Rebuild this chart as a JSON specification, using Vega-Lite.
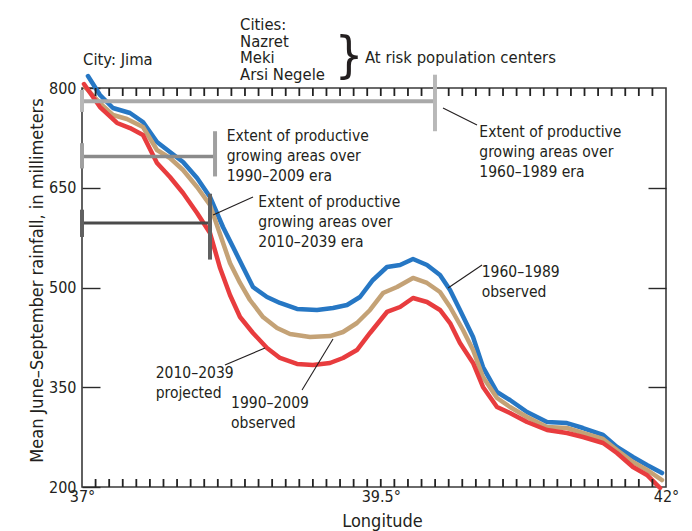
{
  "$schema": "https://vega.github.io/schema/vega-lite/v6.json",
  "width": 584,
  "height": 399,
  "autosize": {"type": "none"},
  "padding": {"left": 82, "top": 88, "right": 26, "bottom": 44},
  "background": "white",
  "config": {
    "view": {"stroke": "#3a3a3a", "strokeWidth": 1.6},
    "font": "Liberation Sans Narrow, DejaVu Sans Condensed, sans-serif",
    "axis": {
      "labelFont": "Liberation Sans Narrow, DejaVu Sans Condensed, sans-serif",
      "titleFont": "Liberation Sans Narrow, DejaVu Sans Condensed, sans-serif",
      "labelColor": "#231f20",
      "titleColor": "#231f20",
      "titleFontWeight": "normal",
      "grid": false,
      "domain": false,
      "tickColor": "#2a2a2a",
      "tickWidth": 1.4
    },
    "text": {"font": "Liberation Sans Narrow, DejaVu Sans Condensed, sans-serif", "color": "#231f20"}
  },
  "datasets": {
    "lines": [
      {"series": "1960–1989", "lon": 37.051, "rain": 818},
      {"series": "1960–1989", "lon": 37.154, "rain": 789.5},
      {"series": "1960–1989", "lon": 37.265, "rain": 769.9},
      {"series": "1960–1989", "lon": 37.411, "rain": 762.4},
      {"series": "1960–1989", "lon": 37.522, "rain": 748.9},
      {"series": "1960–1989", "lon": 37.642, "rain": 718.8},
      {"series": "1960–1989", "lon": 37.753, "rain": 703.8},
      {"series": "1960–1989", "lon": 37.865, "rain": 688.7},
      {"series": "1960–1989", "lon": 37.985, "rain": 664.7},
      {"series": "1960–1989", "lon": 38.096, "rain": 636.1},
      {"series": "1960–1989", "lon": 38.207, "rain": 591.0},
      {"series": "1960–1989", "lon": 38.293, "rain": 560.9},
      {"series": "1960–1989", "lon": 38.378, "rain": 530.8},
      {"series": "1960–1989", "lon": 38.464, "rain": 500.8},
      {"series": "1960–1989", "lon": 38.584, "rain": 485.7},
      {"series": "1960–1989", "lon": 38.695, "rain": 476.7},
      {"series": "1960–1989", "lon": 38.841, "rain": 467.7},
      {"series": "1960–1989", "lon": 39.012, "rain": 466.2},
      {"series": "1960–1989", "lon": 39.149, "rain": 469.2},
      {"series": "1960–1989", "lon": 39.269, "rain": 473.7},
      {"series": "1960–1989", "lon": 39.380, "rain": 485.7},
      {"series": "1960–1989", "lon": 39.491, "rain": 511.3},
      {"series": "1960–1989", "lon": 39.611, "rain": 530.8},
      {"series": "1960–1989", "lon": 39.723, "rain": 533.8},
      {"series": "1960–1989", "lon": 39.834, "rain": 542.8},
      {"series": "1960–1989", "lon": 39.954, "rain": 533.8},
      {"series": "1960–1989", "lon": 40.065, "rain": 518.8},
      {"series": "1960–1989", "lon": 40.151, "rain": 496.2},
      {"series": "1960–1989", "lon": 40.236, "rain": 466.2},
      {"series": "1960–1989", "lon": 40.348, "rain": 425.6},
      {"series": "1960–1989", "lon": 40.433, "rain": 380.4},
      {"series": "1960–1989", "lon": 40.553, "rain": 342.8},
      {"series": "1960–1989", "lon": 40.664, "rain": 330.8},
      {"series": "1960–1989", "lon": 40.810, "rain": 312.8},
      {"series": "1960–1989", "lon": 40.981, "rain": 297.7},
      {"series": "1960–1989", "lon": 41.152, "rain": 296.2},
      {"series": "1960–1989", "lon": 41.289, "rain": 288.7},
      {"series": "1960–1989", "lon": 41.461, "rain": 278.2},
      {"series": "1960–1989", "lon": 41.580, "rain": 260.1},
      {"series": "1960–1989", "lon": 41.717, "rain": 245.1},
      {"series": "1960–1989", "lon": 41.837, "rain": 233.1},
      {"series": "1960–1989", "lon": 41.966, "rain": 221.0},
      {"series": "1990–2009", "lon": 37.026, "rain": 801.5},
      {"series": "1990–2009", "lon": 37.154, "rain": 777.4},
      {"series": "1990–2009", "lon": 37.265, "rain": 759.4},
      {"series": "1990–2009", "lon": 37.385, "rain": 753.4},
      {"series": "1990–2009", "lon": 37.522, "rain": 741.3},
      {"series": "1990–2009", "lon": 37.642, "rain": 706.8},
      {"series": "1990–2009", "lon": 37.753, "rain": 694.7},
      {"series": "1990–2009", "lon": 37.865, "rain": 676.7},
      {"series": "1990–2009", "lon": 37.985, "rain": 651.1},
      {"series": "1990–2009", "lon": 38.096, "rain": 624.1},
      {"series": "1990–2009", "lon": 38.182, "rain": 580.0},
      {"series": "1990–2009", "lon": 38.267, "rain": 536.8},
      {"series": "1990–2009", "lon": 38.353, "rain": 506.8},
      {"series": "1990–2009", "lon": 38.438, "rain": 481.2},
      {"series": "1990–2009", "lon": 38.550, "rain": 455.6},
      {"series": "1990–2009", "lon": 38.670, "rain": 439.1},
      {"series": "1990–2009", "lon": 38.781, "rain": 430.1},
      {"series": "1990–2009", "lon": 38.952, "rain": 425.5},
      {"series": "1990–2009", "lon": 39.123, "rain": 427.0},
      {"series": "1990–2009", "lon": 39.235, "rain": 433.1},
      {"series": "1990–2009", "lon": 39.354, "rain": 446.6},
      {"series": "1990–2009", "lon": 39.466, "rain": 466.2},
      {"series": "1990–2009", "lon": 39.577, "rain": 491.7},
      {"series": "1990–2009", "lon": 39.697, "rain": 500.8},
      {"series": "1990–2009", "lon": 39.834, "rain": 514.3},
      {"series": "1990–2009", "lon": 39.954, "rain": 506.8},
      {"series": "1990–2009", "lon": 40.065, "rain": 493.2},
      {"series": "1990–2009", "lon": 40.151, "rain": 470.7},
      {"series": "1990–2009", "lon": 40.262, "rain": 436.1},
      {"series": "1990–2009", "lon": 40.348, "rain": 406.0},
      {"series": "1990–2009", "lon": 40.433, "rain": 365.4},
      {"series": "1990–2009", "lon": 40.553, "rain": 333.8},
      {"series": "1990–2009", "lon": 40.664, "rain": 320.3},
      {"series": "1990–2009", "lon": 40.810, "rain": 305.3},
      {"series": "1990–2009", "lon": 40.981, "rain": 290.2},
      {"series": "1990–2009", "lon": 41.152, "rain": 288.7},
      {"series": "1990–2009", "lon": 41.289, "rain": 281.2},
      {"series": "1990–2009", "lon": 41.461, "rain": 272.2},
      {"series": "1990–2009", "lon": 41.580, "rain": 255.6},
      {"series": "1990–2009", "lon": 41.717, "rain": 237.6},
      {"series": "1990–2009", "lon": 41.837, "rain": 225.6},
      {"series": "1990–2009", "lon": 41.966, "rain": 210.5},
      {"series": "2010–2039", "lon": 37.017, "rain": 806},
      {"series": "2010–2039", "lon": 37.154, "rain": 771.4},
      {"series": "2010–2039", "lon": 37.300, "rain": 747.4},
      {"series": "2010–2039", "lon": 37.411, "rain": 739.8},
      {"series": "2010–2039", "lon": 37.522, "rain": 729.3},
      {"series": "2010–2039", "lon": 37.642, "rain": 687.2},
      {"series": "2010–2039", "lon": 37.753, "rain": 666.2},
      {"series": "2010–2039", "lon": 37.865, "rain": 642.1},
      {"series": "2010–2039", "lon": 37.985, "rain": 612.0},
      {"series": "2010–2039", "lon": 38.096, "rain": 581.9},
      {"series": "2010–2039", "lon": 38.182, "rain": 529.3},
      {"series": "2010–2039", "lon": 38.267, "rain": 488.7},
      {"series": "2010–2039", "lon": 38.353, "rain": 455.6},
      {"series": "2010–2039", "lon": 38.464, "rain": 431.6},
      {"series": "2010–2039", "lon": 38.584, "rain": 409.0},
      {"series": "2010–2039", "lon": 38.695, "rain": 394.0},
      {"series": "2010–2039", "lon": 38.841, "rain": 385.0},
      {"series": "2010–2039", "lon": 38.978, "rain": 383.4},
      {"series": "2010–2039", "lon": 39.123, "rain": 386.5},
      {"series": "2010–2039", "lon": 39.235, "rain": 394.0},
      {"series": "2010–2039", "lon": 39.354, "rain": 406.0},
      {"series": "2010–2039", "lon": 39.466, "rain": 431.6},
      {"series": "2010–2039", "lon": 39.611, "rain": 463.2},
      {"series": "2010–2039", "lon": 39.723, "rain": 470.7},
      {"series": "2010–2039", "lon": 39.834, "rain": 484.2},
      {"series": "2010–2039", "lon": 39.954, "rain": 478.2},
      {"series": "2010–2039", "lon": 40.065, "rain": 466.2},
      {"series": "2010–2039", "lon": 40.151, "rain": 446.6},
      {"series": "2010–2039", "lon": 40.236, "rain": 416.5},
      {"series": "2010–2039", "lon": 40.348, "rain": 386.5},
      {"series": "2010–2039", "lon": 40.433, "rain": 350.4},
      {"series": "2010–2039", "lon": 40.553, "rain": 320.3},
      {"series": "2010–2039", "lon": 40.664, "rain": 311.3},
      {"series": "2010–2039", "lon": 40.810, "rain": 297.7},
      {"series": "2010–2039", "lon": 40.981, "rain": 285.7},
      {"series": "2010–2039", "lon": 41.152, "rain": 281.2},
      {"series": "2010–2039", "lon": 41.289, "rain": 275.2},
      {"series": "2010–2039", "lon": 41.461, "rain": 266.2},
      {"series": "2010–2039", "lon": 41.580, "rain": 251.1},
      {"series": "2010–2039", "lon": 41.717, "rain": 230.1},
      {"series": "2010–2039", "lon": 41.837, "rain": 218.1},
      {"series": "2010–2039", "lon": 41.949, "rain": 198.5}
    ],
    "xticks": [
      {"lon": 37.1163}, {"lon": 37.2326}, {"lon": 37.3488}, {"lon": 37.4651}, {"lon": 37.5814}, {"lon": 37.6977}, {"lon": 37.814}, {"lon": 37.9302}, {"lon": 38.0465}, {"lon": 38.1628}, {"lon": 38.2791}, {"lon": 38.3953}, {"lon": 38.5116}, {"lon": 38.6279}, {"lon": 38.7442}, {"lon": 38.8605}, {"lon": 38.9767}, {"lon": 39.093}, {"lon": 39.2093}, {"lon": 39.3256}, {"lon": 39.4419}, {"lon": 39.5581}, {"lon": 39.6744}, {"lon": 39.7907}, {"lon": 39.907}, {"lon": 40.0233}, {"lon": 40.1395}, {"lon": 40.2558}, {"lon": 40.3721}, {"lon": 40.4884}, {"lon": 40.6047}, {"lon": 40.7209}, {"lon": 40.8372}, {"lon": 40.9535}, {"lon": 41.0698}, {"lon": 41.186}, {"lon": 41.3023}, {"lon": 41.4186}, {"lon": 41.5349}, {"lon": 41.6512}, {"lon": 41.7674}, {"lon": 41.8837}
    ],
    "bars": [
      {"era": "1960–1989", "lon1": 37, "lon2": 40.022, "rain": 780},
      {"era": "1990–2009", "lon1": 37, "lon2": 38.139, "rain": 697},
      {"era": "2010–2039", "lon1": 37, "lon2": 38.096, "rain": 597}
    ],
    "caps": [
      {"era": "1960–1989", "lon": 40.022, "r1": 820, "r2": 735},
      {"era": "1990–2009", "lon": 38.139, "r1": 735, "r2": 667},
      {"era": "2010–2039", "lon": 38.096, "r1": 641, "r2": 542},
      {"era": "1960–1989", "lon": 37, "r1": 797, "r2": 764},
      {"era": "1990–2009", "lon": 37, "r1": 717, "r2": 679},
      {"era": "2010–2039", "lon": 37, "r1": 617, "r2": 576}
    ],
    "leaders": [
      {"lon1": 40.091, "r1": 769.9, "lon2": 40.382, "r2": 744.4},
      {"lon1": 38.122, "r1": 609.0, "lon2": 38.464, "r2": 636.1},
      {"lon1": 40.134, "r1": 499.2, "lon2": 40.425, "r2": 533.8},
      {"lon1": 38.224, "r1": 383.4, "lon2": 38.567, "r2": 409.0},
      {"lon1": 38.884, "r1": 345.9, "lon2": 39.149, "r2": 422.5}
    ],
    "notes": [
      {"lon": 38.239, "rain": 720.3, "label": ["Extent of productive", "growing areas over", "1990–2009 era"]},
      {"lon": 38.510, "rain": 621.5, "label": ["Extent of productive", "growing areas over", "2010–2039 era"]},
      {"lon": 40.402, "rain": 725.8, "label": ["Extent of productive", "growing areas over", "1960–1989 era"]},
      {"lon": 40.422, "rain": 516.3, "label": ["1960–1989", "observed"]},
      {"lon": 37.631, "rain": 363.4, "label": ["2010–2039", "projected"]},
      {"lon": 38.276, "rain": 318.3, "label": ["1990–2009", "observed"]}
    ],
    "headers": [
      {"lon": 37.009, "rain": 834.6, "label": ["City: Jima"]},
      {"lon": 39.423, "rain": 838.0, "label": ["At risk population centers"]}
    ],
    "cities": [
      {"lon": 38.353, "rain": 887.2, "label": ["Cities:", "Nazret", "Meki", "Arsi Negele"]}
    ],
    "brace": [
      {"lon": 39.286, "rain": 824.8, "label": "}"}
    ]
  },
  "layer": [
    {
      "data": {"name": "lines"},
      "mark": {"type": "line", "strokeWidth": 4.5, "strokeJoin": "round", "strokeCap": "round"},
      "encoding": {
        "x": {
          "field": "lon", "type": "quantitative",
          "scale": {"domain": [37, 42], "nice": false, "zero": false},
          "axis": {
            "orient": "bottom",
            "values": [37, 39.5581, 42],
            "ticks": false,
            "labelExpr": "datum.value == 37 ? '37°' : datum.value == 42 ? '42°' : '39.5°'",
            "labelFlush": false,
            "labelOverlap": false,
            "labelFontSize": 16,
            "labelPadding": 1,
            "title": "Longitude",
            "titleFontSize": 18,
            "titleX": 300,
            "titleY": 39,
            "titleBaseline": "alphabetic"
          }
        },
        "y": {
          "field": "rain", "type": "quantitative",
          "scale": {"domain": [200, 800], "nice": false, "zero": false},
          "axis": {
            "orient": "left",
            "offset": -18,
            "values": [200, 350, 500, 650, 800],
            "tickSize": 18,
            "labelFontSize": 16,
            "labelPadding": 6,
            "title": "Mean June–September rainfall, in millimeters",
            "titleFontSize": 18,
            "titleX": -58,
            "titleY": 192,
            "titleBaseline": "alphabetic"
          }
        },
        "color": {
          "field": "series", "type": "nominal",
          "scale": {"domain": ["1960–1989", "1990–2009", "2010–2039"], "range": ["#2677c4", "#c4a276", "#e83c3e"]},
          "legend": null
        }
      }
    },
    {
      "data": {"name": "xticks"},
      "mark": {"type": "rule", "color": "#222222", "strokeWidth": 1.8},
      "encoding": {
        "x": {"field": "lon", "type": "quantitative", "axis": null},
        "y": {"datum": 200, "type": "quantitative", "axis": null},
        "y2": {"datum": 212}
      }
    },
    {
      "data": {"name": "xticks"},
      "mark": {"type": "rule", "color": "#222222", "strokeWidth": 1.8},
      "encoding": {
        "x": {"field": "lon", "type": "quantitative", "axis": null},
        "y": {"datum": 800, "type": "quantitative", "axis": null},
        "y2": {"datum": 788}
      }
    },
    {
      "data": {"name": "bars"},
      "mark": {"type": "rule"},
      "encoding": {
        "x": {"field": "lon1", "type": "quantitative", "axis": null},
        "x2": {"field": "lon2"},
        "y": {
          "field": "rain", "type": "quantitative",
          "axis": {
            "orient": "right",
            "offset": -18,
            "values": [350, 500, 650],
            "tickSize": 18,
            "labels": false,
            "title": null
          }
        },
        "color": {
          "field": "era", "type": "nominal",
          "scale": {"domain": ["1960–1989", "1990–2009", "2010–2039"], "range": ["#a9a9a9", "#8a8a8a", "#4a4a4a"]},
          "legend": null
        },
        "strokeWidth": {
          "field": "era", "type": "nominal",
          "scale": {"domain": ["1960–1989", "1990–2009", "2010–2039"], "range": [4, 3, 2]},
          "legend": null
        }
      }
    },
    {
      "data": {"name": "caps"},
      "mark": {"type": "rule"},
      "encoding": {
        "x": {"field": "lon", "type": "quantitative", "axis": null},
        "y": {"field": "r1", "type": "quantitative", "axis": null},
        "y2": {"field": "r2"},
        "color": {
          "field": "era", "type": "nominal",
          "scale": {"domain": ["1960–1989", "1990–2009", "2010–2039"], "range": ["#b8b8b8", "#a0a0a0", "#606060"]},
          "legend": null
        },
        "strokeWidth": {
          "field": "era", "type": "nominal",
          "scale": {"domain": ["1960–1989", "1990–2009", "2010–2039"], "range": [4, 4, 3]},
          "legend": null
        }
      }
    },
    {
      "data": {"name": "leaders"},
      "mark": {"type": "rule", "color": "#231f20", "strokeWidth": 1.1},
      "encoding": {
        "x": {"field": "lon1", "type": "quantitative", "axis": null},
        "x2": {"field": "lon2"},
        "y": {"field": "r1", "type": "quantitative", "axis": null},
        "y2": {"field": "r2"}
      }
    },
    {
      "data": {"name": "notes"},
      "mark": {"type": "text", "align": "left", "baseline": "alphabetic", "fontSize": 15.5, "lineHeight": 20},
      "encoding": {
        "x": {"field": "lon", "type": "quantitative", "axis": null},
        "y": {"field": "rain", "type": "quantitative", "axis": null},
        "text": {"field": "label"}
      }
    },
    {
      "data": {"name": "headers"},
      "mark": {"type": "text", "align": "left", "baseline": "alphabetic", "fontSize": 16.5},
      "encoding": {
        "x": {"field": "lon", "type": "quantitative", "axis": null},
        "y": {"field": "rain", "type": "quantitative", "axis": null},
        "text": {"field": "label"}
      }
    },
    {
      "data": {"name": "cities"},
      "mark": {"type": "text", "align": "left", "baseline": "alphabetic", "fontSize": 16.5, "lineHeight": 16.7},
      "encoding": {
        "x": {"field": "lon", "type": "quantitative", "axis": null},
        "y": {"field": "rain", "type": "quantitative", "axis": null},
        "text": {"field": "label"}
      }
    },
    {
      "data": {"name": "brace"},
      "mark": {"type": "text", "align": "center", "baseline": "alphabetic", "fontSize": 50},
      "encoding": {
        "x": {"field": "lon", "type": "quantitative", "axis": null},
        "y": {"field": "rain", "type": "quantitative", "axis": null},
        "text": {"field": "label"}
      }
    }
  ],
  "resolve": {
    "scale": {"color": "independent", "strokeWidth": "independent"},
    "axis": {"x": "independent", "y": "independent"}
  }
}
